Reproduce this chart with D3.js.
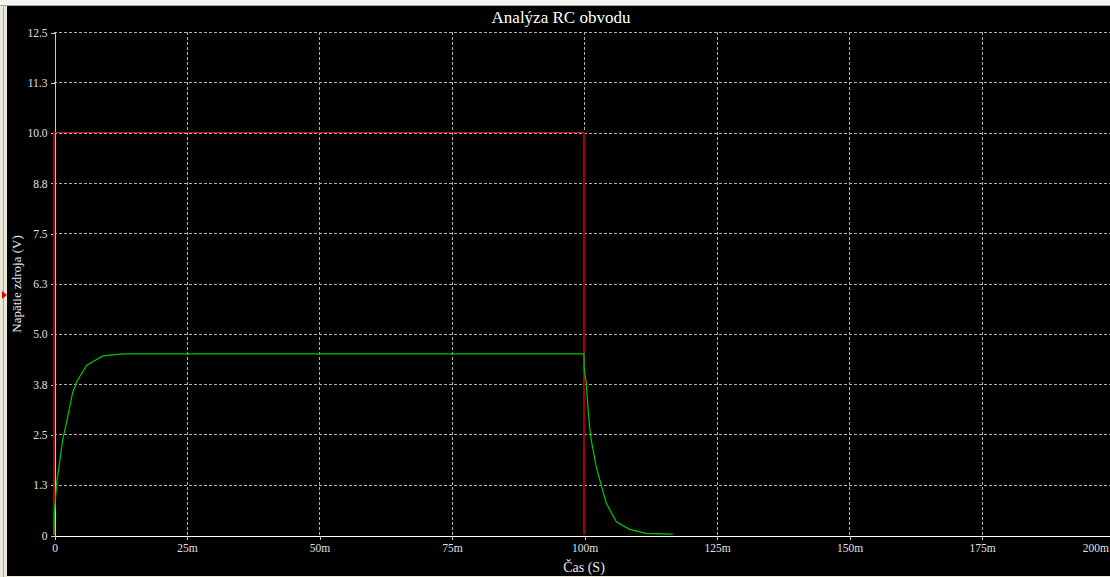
<!DOCTYPE html>
<html>
<head>
<meta charset="utf-8">
<script src="https://cdn.jsdelivr.net/npm/d3@7"></script>
<style>
  html, body { margin: 0; padding: 0; background: #ece9d8; overflow: hidden; }
  svg { display: block; font-family: 'Liberation Serif', 'Times New Roman', serif; }
  .grid line { stroke: #b0b0b0; stroke-dasharray: 3, 2; shape-rendering: crispEdges; }
  .axis line, .axis path { shape-rendering: crispEdges; }
</style>
</head>
<body>
<script>
// source voltage (red), time in ms
const srcTime = [0, 0, 100, 100];
const srcVolt = [0, 10, 10, 0];

// capacitor voltage (green)
const capTime = [0, 0.06, 0.5, 1.64, 2.58, 3.5, 4.28, 6.17, 9.24, 13.0, 20, 100,
  100.05, 100.43, 100.73, 101.05, 101.37, 102.3, 103.25, 104.2, 106.1, 108.6, 111.75, 116.75];
const capVolt = [0, 0.5, 1.29, 2.36, 2.93, 3.53, 3.81, 4.22, 4.45, 4.5, 4.5, 4.5,
  4.1, 3.78, 3.19, 2.69, 2.36, 1.7, 1.24, 0.79, 0.33, 0.14, 0.04, 0.02];

const xTicks = [0, 25, 50, 75, 100, 125, 150, 175, 200];
const xLabels = ['0', '25m', '50m', '75m', '100m', '125m', '150m', '175m', '200m'];
const yTicks = [0, 1.25, 2.5, 3.75, 5, 6.25, 7.5, 8.75, 10, 11.25, 12.5];
const yLabels = ['0', '1.3', '2.5', '3.8', '5.0', '6.3', '7.5', '8.8', '10.0', '11.3', '12.5'];

const W = 1110;
const H = 577;
const margin = { top: 32, left: 54, bottom: 42 };
const plotRight = 1114; // 200m sits just past the window edge
const serif = "'Liberation Serif', 'Times New Roman', serif";

const x = d3.scaleLinear().domain([0, 200]).range([margin.left, plotRight]);
const y = d3.scaleLinear().domain([0, 12.5]).range([H - margin.bottom, margin.top]);

const svg = d3.select('body').append('svg')
  .attr('width', W)
  .attr('height', H);

// window frame
svg.append('rect').attr('x', 0).attr('y', 0).attr('width', W).attr('height', H).attr('fill', '#ece9d8');
svg.append('rect').attr('x', 0).attr('y', 0).attr('width', W).attr('height', 5).attr('fill', '#f4f4f4');
svg.append('line').attr('x1', 0).attr('x2', W).attr('y1', 5.5).attr('y2', 5.5).attr('stroke', '#aca899');
svg.append('line').attr('x1', 3.5).attr('x2', 3.5).attr('y1', 6).attr('y2', H).attr('stroke', '#aca899');
svg.append('rect')
  .attr('x', 7).attr('y', 6)
  .attr('width', W - 7).attr('height', 570)
  .attr('fill', '#000');

// red marker on left border
svg.append('path')
  .attr('d', 'M2,291 L7,295 L2,299 Z')
  .attr('fill', '#e00000');

// grid
const grid = svg.append('g').attr('class', 'grid');
grid.selectAll('.h')
  .data(yTicks.filter(d => d > 0))
  .enter().append('line')
  .attr('x1', margin.left)
  .attr('x2', W)
  .attr('y1', d => Math.round(y(d)) + 0.5)
  .attr('y2', d => Math.round(y(d)) + 0.5);
grid.selectAll('.v')
  .data(xTicks.filter(d => d > 0))
  .enter().append('line')
  .attr('x1', d => Math.round(x(d)) + 0.5)
  .attr('x2', d => Math.round(x(d)) + 0.5)
  .attr('y1', y(12.5))
  .attr('y2', y(0));

// axes
const yAxis = svg.append('g')
  .attr('class', 'axis')
  .attr('transform', `translate(${margin.left + 0.5}, 0.5)`)
  .call(d3.axisLeft(y)
    .tickValues(yTicks)
    .tickFormat((d, i) => yLabels[i])
    .tickSize(4)
    .tickSizeOuter(0)
    .tickPadding(3));
yAxis.select('.domain').attr('stroke', '#c8c8c8');
yAxis.selectAll('.tick line').attr('stroke', '#c8c8c8');

const xAxis = svg.append('g')
  .attr('class', 'axis')
  .attr('transform', `translate(0.5, ${y(0) + 0.5})`)
  .call(d3.axisBottom(x)
    .tickValues(xTicks)
    .tickFormat((d, i) => xLabels[i])
    .tickSize(4)
    .tickSizeOuter(0)
    .tickPadding(4));
xAxis.select('.domain').attr('stroke', '#ffffff');
xAxis.selectAll('.tick line').attr('stroke', '#c8c8c8');

svg.selectAll('.axis text')
  .attr('fill', '#e0e0e0')
  .style('font-family', serif)
  .style('font-size', '11.5px');

// last label is kept inside the window
xAxis.selectAll('.tick text').filter(d => d === 200)
  .attr('text-anchor', 'end')
  .attr('x', W - 2 - x(200));

// series
const line = d3.line()
  .x(d => x(d[0]))
  .y(d => y(d[1]));

const src = srcTime.map((t, i) => [t, srcVolt[i]]);

// vertical edges darker red, flat top bright red
svg.append('path')
  .datum(src)
  .attr('d', line)
  .attr('fill', 'none')
  .attr('stroke', '#a00000')
  .attr('stroke-width', 1.5)
  .attr('shape-rendering', 'crispEdges');

svg.append('path')
  .datum(src.filter(d => d[1] === d3.max(srcVolt)))
  .attr('d', line)
  .attr('fill', 'none')
  .attr('stroke', '#f00000')
  .attr('stroke-width', 1.2)
  .attr('shape-rendering', 'crispEdges');

svg.append('path')
  .datum(capTime.map((t, i) => [t, capVolt[i]]))
  .attr('d', line)
  .attr('fill', 'none')
  .attr('stroke', '#00c800')
  .attr('stroke-width', 1.2);

// titles
svg.append('text')
  .attr('x', 561)
  .attr('y', 23)
  .attr('text-anchor', 'middle')
  .attr('fill', '#ffffff')
  .style('font-size', '17px')
  .text('Analýza RC obvodu');

svg.append('text')
  .attr('transform', 'translate(21, 284) rotate(-90)')
  .attr('text-anchor', 'middle')
  .attr('fill', '#e8e8e8')
  .style('font-size', '13px')
  .text('Napätie zdroja (V)');

svg.append('text')
  .attr('x', 584)
  .attr('y', 572)
  .attr('text-anchor', 'middle')
  .attr('fill', '#e8e8e8')
  .style('font-size', '14px')
  .text('Čas (S)');
</script>
</body>
</html>
